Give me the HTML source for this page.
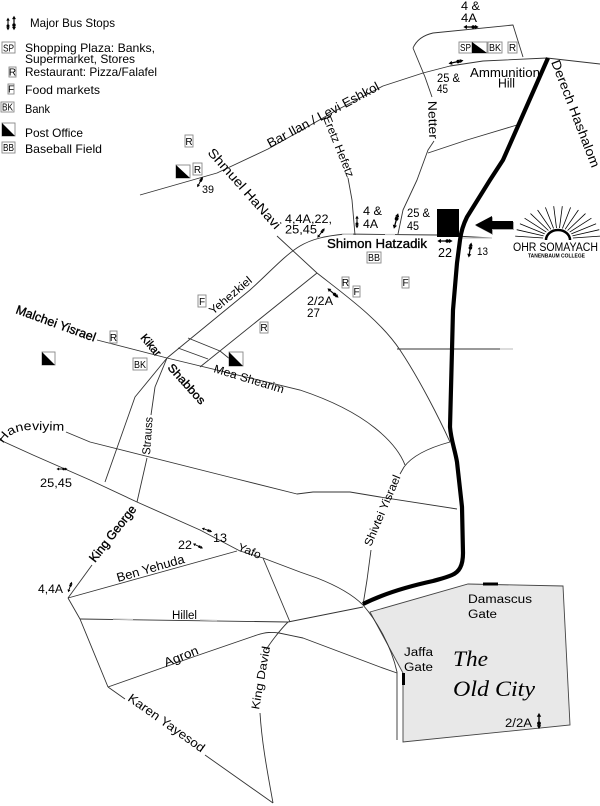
<!DOCTYPE html>
<html><head><meta charset="utf-8"><style>
html,body{margin:0;padding:0;background:#fff;}
svg{display:block;}
text{font-family:"Liberation Sans",sans-serif;fill:#000;}
.md{stroke:#000;stroke-width:0.35;}
.bx{fill:#fff;stroke:#888;stroke-width:0.9;}
</style></head><body>
<svg width="600" height="806" viewBox="0 0 600 806" xmlns="http://www.w3.org/2000/svg">
<defs>
<g id="bus"><path d="M-6,0H6" stroke="#000" stroke-width="1.4"/><path d="M-8.5,0L-4.5,-2.3V2.3Z M8.5,0L4.5,-2.3V2.3Z" fill="#000"/><circle cx="2.5" cy="0" r="2" fill="#000"/></g>
<path id="hp" d="M3,444 C9,434 18,430 32,430 L72,431" fill="none"/>
</defs>
<rect width="600" height="806" fill="#fff"/>

<!-- Old City -->
<polygon points="370,612 468,584 563,586 570,725 403,742 403,673" fill="#e8e8e8" stroke="#444" stroke-width="0.9"/>

<!-- thin roads -->
<g fill="none" stroke="#333" stroke-width="0.9" stroke-linejoin="round">
<polyline points="140,195 217,173 268,149 300,131 337,110 383,86 423,73 450,66 483,61 547,58 600,64"/>
<path d="M413,48 C417,39 424,35 433,33 L513,25 L523,57"/>
<path d="M413,48 L425,77 L432,97"/>
<path d="M434,141 L428,150 L417,180 L403,210 L398,234"/>
<path d="M428,153 L467,140 L517,125"/>
<path d="M348,178 L352,200 L355,235"/>
<path d="M277,236 L317,273 C345,295 380,320 400,350 C420,380 440,420 450,442"/>
<path d="M105,482 L135,397 L167,358 L250,290 C270,272 285,255 300,246 C312,239 325,236 345,234 L437,235 L492,238"/>
<path d="M317,273 L200,367"/>
<path d="M188,338 L220,351 L236,364"/>
<path d="M178,348 L208,359"/>
<path d="M97,340 L167,358 L300,390 C330,400 355,412 375,428 C390,440 400,452 405,465"/>
<path d="M450,442 C428,448 412,456 404,467 L400,474"/>
<path d="M371,550 L367,580 L363,605"/>
<path d="M397,349 L513,349"/>
<polyline points="66,432 90,442 233,478 297,494 313,492 350,492 380,497 457,509"/>
<path d="M0,440 L33,455 L90,480 L137,502 L200,530 L240,551 L263,558 L300,572 L317,578 C335,585 352,594 363,605"/>
<path d="M137,502 L147,458 M151,415 L155,387 L167,358"/>
<path d="M68,598 L92,565"/>
<path d="M68,598 L237,551"/>
<path d="M263,558 L290,622"/>
<path d="M80,619 L288,622 L363,607"/>
<path d="M68,598 L80,619 L108,687"/>
<path d="M108,687 L193,657 L257,635 C266,632 272,632 279,633 L303,638 L380,667 L397,673"/>
<path d="M108,687 L125,699 M205,755 L273,803"/>
<path d="M288,622 C280,630 270,643 266,650 M260,713 C262,745 268,775 273,803"/>
<path d="M363,605 C376,620 391,645 397,672 L397,740"/>
</g>
<!-- light gray segments -->
<g fill="none" stroke="#c8c8c8" stroke-width="1.3">
<path d="M342,234 L353,234 M385,234.5 L395,234.5 M462,238 L492,238 M113,619 L133,619.5 M200,620 L217,620.5 M500,349 L513,349"/>
</g>

<!-- Derech Hashalom thick road -->
<path d="M548,58 L503,160 L490,180 L467,217 C463,225 461,232 460,240 L457,263 L453,310 L452,350 L450,427 C451,440 455,450 457,462 L462,507 L463,553 C463,566 459,572 452,575 C445,578 440,579 433,581 C410,586 385,593 363,604" fill="none" stroke="#000" stroke-width="4.2" stroke-linejoin="round"/>

<!-- gates -->
<rect x="483" y="582.5" width="15" height="3" fill="#000"/>
<rect x="402" y="673" width="3" height="12" fill="#000"/>

<!-- black square & arrow -->
<rect x="437" y="209" width="22" height="28" fill="#000"/>
<path d="M476,226 L493,217 L493,222 L514,222 L514,230 L493,230 L493,235 Z" fill="#aaa"/>
<path d="M475,225 L492,216 L492,221 L513,221 L513,229 L492,229 L492,234 Z" fill="#000"/>

<!-- Ohr Somayach logo -->
<g stroke="#000" stroke-width="0.8">
<line x1="572.9" y1="238" x2="600" y2="236.1"/>
<line x1="572.4" y1="235.9" x2="599.3" y2="229.7"/>
<line x1="571.3" y1="233.9" x2="596.1" y2="223.7"/>
<line x1="569.7" y1="232.1" x2="591.4" y2="218.2"/>
<line x1="567.6" y1="230.5" x2="585.5" y2="213.6"/>
<line x1="565.1" y1="229.3" x2="578.4" y2="210"/>
<line x1="562.4" y1="228.5" x2="570.6" y2="207.4"/>
<line x1="559.5" y1="228.1" x2="562.3" y2="206.2"/>
<line x1="556.5" y1="228.1" x2="553.7" y2="206.2"/>
<line x1="553.6" y1="228.5" x2="545.4" y2="207.4"/>
<line x1="550.9" y1="229.3" x2="537.6" y2="210"/>
<line x1="548.4" y1="230.5" x2="530.5" y2="213.6"/>
<line x1="546.3" y1="232.1" x2="524.6" y2="218.2"/>
<line x1="544.7" y1="233.9" x2="519.9" y2="223.7"/>
<line x1="543.6" y1="235.9" x2="516.7" y2="229.7"/>
<line x1="543.1" y1="238" x2="515.2" y2="236.1"/>
</g>
<path d="M546,240 A12,10 0 0 1 570,240" fill="none" stroke="#000" stroke-width="2.5"/>
<text x="513" y="251" font-size="11.5" textLength="85" lengthAdjust="spacingAndGlyphs">OHR SOMAYACH</text>
<text x="528" y="257.5" font-size="5.5" font-weight="bold" textLength="57" lengthAdjust="spacingAndGlyphs">TANENBAUM COLLEGE</text>

<!-- boxes -->
<g font-size="10" text-anchor="middle">
<rect class="bx" x="2" y="42" width="13" height="11"/><text x="8.5" y="51.5" textLength="11" lengthAdjust="spacingAndGlyphs">SP</text>
<rect class="bx" x="9" y="67" width="7" height="10"/><text x="12.5" y="75.5">R</text>
<rect class="bx" x="8" y="84" width="6" height="10"/><text x="11" y="92.5">F</text>
<rect class="bx" x="1" y="102" width="13" height="10"/><text x="7.5" y="110.5" textLength="11" lengthAdjust="spacingAndGlyphs">BK</text>
<rect class="bx" x="2" y="142" width="13" height="11"/><text x="8.5" y="151" textLength="11" lengthAdjust="spacingAndGlyphs">BB</text>
<rect class="bx" x="185" y="135" width="8" height="12"/><text x="189" y="145">R</text>
<rect class="bx" x="193" y="163" width="9" height="12"/><text x="197.5" y="173">R</text>
<rect class="bx" x="459" y="42" width="13" height="11"/><text x="465.5" y="51" textLength="11" lengthAdjust="spacingAndGlyphs">SP</text>
<rect class="bx" x="488" y="42" width="14" height="11"/><text x="495" y="51" textLength="12" lengthAdjust="spacingAndGlyphs">BK</text>
<rect class="bx" x="508" y="42" width="9" height="11"/><text x="512.5" y="51">R</text>
<rect class="bx" x="367" y="252" width="14" height="11"/><text x="374" y="261" textLength="12" lengthAdjust="spacingAndGlyphs">BB</text>
<rect class="bx" x="342" y="277" width="7" height="11"/><text x="345.5" y="286">R</text>
<rect class="bx" x="353" y="286" width="7" height="11"/><text x="356.5" y="295">F</text>
<rect class="bx" x="402" y="277" width="7" height="11"/><text x="405.5" y="286">F</text>
<rect class="bx" x="198" y="295" width="8" height="12"/><text x="202" y="305">F</text>
<rect class="bx" x="260" y="322" width="8" height="11"/><text x="264" y="331">R</text>
<rect class="bx" x="110" y="331" width="7" height="12"/><text x="113.5" y="341">R</text>
<rect class="bx" x="133" y="358" width="14" height="12"/><text x="140" y="368" textLength="12" lengthAdjust="spacingAndGlyphs">BK</text>
</g>

<!-- post offices -->
<g>
<rect class="bx" x="2" y="123" width="13" height="13"/><path d="M2,123 L2,136 L15,136 Z" fill="#000"/>
<rect class="bx" x="176" y="165" width="14" height="13"/><path d="M176,165 L176,178 L190,178 Z" fill="#000"/>
<rect class="bx" x="472" y="42" width="15" height="11"/><path d="M472,42 L472,53 L487,53 Z" fill="#000"/>
<rect class="bx" x="42" y="352" width="13" height="13"/><path d="M42,352 L42,365 L55,365 Z" fill="#000"/>
<rect class="bx" x="229" y="352" width="14" height="14"/><path d="M229,352 L229,366 L243,366 Z" fill="#000"/>
</g>

<!-- bus stops -->
<use href="#bus" transform="translate(8,24) rotate(90) scale(.75)"/>
<use href="#bus" transform="translate(14,23) rotate(90) scale(.85)"/>
<use href="#bus" transform="translate(471,27) scale(.9)"/>
<use href="#bus" transform="translate(456,62) rotate(-12) scale(.9)"/>
<use href="#bus" transform="translate(200,182) rotate(-62) scale(.7)"/>
<use href="#bus" transform="translate(321,233) rotate(-52) scale(.7)"/>
<use href="#bus" transform="translate(357,222) rotate(90) scale(.75)"/>
<use href="#bus" transform="translate(396,221) rotate(-75) scale(.95)"/>
<use href="#bus" transform="translate(445,241) scale(.9)"/>
<use href="#bus" transform="translate(470,250) rotate(-80) scale(.9)"/>
<use href="#bus" transform="translate(333,293) rotate(40) scale(.85)"/>
<use href="#bus" transform="translate(62,469) scale(.65)"/>
<use href="#bus" transform="translate(207,530) rotate(20) scale(.65)"/>
<use href="#bus" transform="translate(198,546) rotate(25) scale(.65)"/>
<use href="#bus" transform="translate(70,587) rotate(-70) scale(.65)"/>
<use href="#bus" transform="translate(539,721) rotate(90) scale(.95)"/>

<!-- legend text -->
<g font-size="12">
<text x="30" y="27" textLength="85" lengthAdjust="spacingAndGlyphs">Major Bus Stops</text>
<text x="25" y="52" textLength="130" lengthAdjust="spacingAndGlyphs">Shopping Plaza: Banks,</text>
<text x="25" y="63" textLength="110" lengthAdjust="spacingAndGlyphs">Supermarket, Stores</text>
<text x="25" y="76" textLength="132" lengthAdjust="spacingAndGlyphs">Restaurant: Pizza/Falafel</text>
<text x="25" y="94" textLength="75" lengthAdjust="spacingAndGlyphs">Food markets</text>
<text x="25" y="113" textLength="25" lengthAdjust="spacingAndGlyphs">Bank</text>
<text x="25" y="137" textLength="58" lengthAdjust="spacingAndGlyphs">Post Office</text>
<text x="25" y="153" textLength="77" lengthAdjust="spacingAndGlyphs">Baseball Field</text>
</g>

<!-- street labels -->
<text transform="translate(270,148) rotate(-28)" font-size="13" textLength="125" lengthAdjust="spacingAndGlyphs">Bar Ilan / Levi Eshkol</text>
<text transform="translate(207,153) rotate(48.5)" font-size="13" textLength="103" lengthAdjust="spacingAndGlyphs">Shmuel HaNavi</text>
<text transform="translate(323,118) rotate(68)" font-size="11.5" textLength="65" lengthAdjust="spacingAndGlyphs">Eretz Hefetz</text>
<text transform="translate(428,101) rotate(88)" font-size="12.5" textLength="38" lengthAdjust="spacingAndGlyphs">Netter</text>
<text x="470" y="77" font-size="13" textLength="70" lengthAdjust="spacingAndGlyphs">Ammunition</text>
<text x="498" y="87.5" font-size="13" textLength="17" lengthAdjust="spacingAndGlyphs">Hill</text>
<text transform="translate(551,62) rotate(69)" font-size="13" textLength="114" lengthAdjust="spacingAndGlyphs">Derech Hashalom</text>
<text x="461" y="10" font-size="12" textLength="19" lengthAdjust="spacingAndGlyphs">4 &amp;</text>
<text x="461" y="22" font-size="12" textLength="16" lengthAdjust="spacingAndGlyphs">4A</text>
<text x="437" y="82" font-size="12" textLength="23" lengthAdjust="spacingAndGlyphs">25 &amp;</text>
<text x="437" y="93" font-size="12" textLength="11" lengthAdjust="spacingAndGlyphs">45</text>
<text x="327" y="248" font-size="13" class="md" textLength="100" lengthAdjust="spacingAndGlyphs">Shimon Hatzadik</text>
<text x="285" y="223" font-size="12" textLength="47" lengthAdjust="spacingAndGlyphs">4,4A,22,</text>
<text x="285" y="233.5" font-size="12" textLength="32" lengthAdjust="spacingAndGlyphs">25,45</text>
<text x="363" y="215" font-size="12" textLength="19" lengthAdjust="spacingAndGlyphs">4 &amp;</text>
<text x="363" y="228" font-size="12" textLength="15" lengthAdjust="spacingAndGlyphs">4A</text>
<text x="407" y="217" font-size="12" textLength="23" lengthAdjust="spacingAndGlyphs">25 &amp;</text>
<text x="407" y="230" font-size="12" textLength="12" lengthAdjust="spacingAndGlyphs">45</text>
<text x="438" y="257" font-size="13" textLength="14" lengthAdjust="spacingAndGlyphs">22</text>
<text x="477" y="255" font-size="11" textLength="11" lengthAdjust="spacingAndGlyphs">13</text>
<text x="307" y="305" font-size="12" textLength="26" lengthAdjust="spacingAndGlyphs">2/2A</text>
<text x="307" y="317" font-size="12" textLength="13" lengthAdjust="spacingAndGlyphs">27</text>
<text x="202" y="193" font-size="11" textLength="12" lengthAdjust="spacingAndGlyphs">39</text>
<text transform="translate(213,315) rotate(-40)" font-size="11.5" textLength="52" lengthAdjust="spacingAndGlyphs">Yehezkiel</text>
<text transform="translate(15,313) rotate(20)" font-size="12.5" class="md" textLength="84" lengthAdjust="spacingAndGlyphs">Malchei Yisrael</text>
<text transform="translate(140,338) rotate(50)" font-size="11.5" class="md" textLength="25" lengthAdjust="spacingAndGlyphs">Kikar</text>
<text transform="translate(167,368) rotate(48)" font-size="11.5" class="md" textLength="50" lengthAdjust="spacingAndGlyphs">Shabbos</text>
<text transform="translate(213,372) rotate(17)" font-size="11.5" textLength="73" lengthAdjust="spacingAndGlyphs">Mea Shearim</text>
<text transform="translate(150,455) rotate(-86)" font-size="11.5" textLength="38" lengthAdjust="spacingAndGlyphs">Strauss</text>
<text font-size="12.5"><textPath href="#hp" textLength="66" lengthAdjust="spacingAndGlyphs">Haneviyim</textPath></text>
<text x="40" y="487" font-size="11.5" textLength="32" lengthAdjust="spacingAndGlyphs">25,45</text>
<text transform="translate(95,563) rotate(-52)" font-size="12.5" class="md" textLength="68" lengthAdjust="spacingAndGlyphs">King George</text>
<text x="38" y="593" font-size="11.5" textLength="25" lengthAdjust="spacingAndGlyphs">4,4A</text>
<text transform="translate(118,582) rotate(-16)" font-size="12.5" textLength="70" lengthAdjust="spacingAndGlyphs">Ben Yehuda</text>
<text transform="translate(237,550) rotate(22)" font-size="11.5" textLength="24" lengthAdjust="spacingAndGlyphs">Yafo</text>
<text x="178" y="549" font-size="11.5" textLength="14" lengthAdjust="spacingAndGlyphs">22</text>
<text x="213" y="542" font-size="11.5" textLength="14" lengthAdjust="spacingAndGlyphs">13</text>
<text x="172" y="619" font-size="11.5" textLength="25" lengthAdjust="spacingAndGlyphs">Hillel</text>
<text transform="translate(166,667) rotate(-22)" font-size="12.5" textLength="36" lengthAdjust="spacingAndGlyphs">Agron</text>
<text transform="translate(259,710) rotate(-80)" font-size="11.5" textLength="64" lengthAdjust="spacingAndGlyphs">King David</text>
<text transform="translate(127,700) rotate(35.4)" font-size="12.5" textLength="91" lengthAdjust="spacingAndGlyphs">Karen Yayesod</text>
<text transform="translate(371,547) rotate(-67)" font-size="11.5" textLength="76" lengthAdjust="spacingAndGlyphs">Shivtei Yisrael</text>

<!-- Old city labels -->
<text x="468" y="603" font-size="11.5" textLength="64" lengthAdjust="spacingAndGlyphs">Damascus</text>
<text x="468" y="618" font-size="11.5" textLength="29" lengthAdjust="spacingAndGlyphs">Gate</text>
<text x="404" y="656" font-size="11.5" textLength="29" lengthAdjust="spacingAndGlyphs">Jaffa</text>
<text x="404" y="671" font-size="11.5" textLength="29" lengthAdjust="spacingAndGlyphs">Gate</text>
<text x="453" y="666" font-size="22" font-style="italic" style="font-family:'Liberation Serif',serif" textLength="35" lengthAdjust="spacingAndGlyphs">The</text>
<text x="453" y="696" font-size="22" font-style="italic" style="font-family:'Liberation Serif',serif" textLength="82" lengthAdjust="spacingAndGlyphs">Old City</text>
<text x="505" y="727" font-size="11.5" textLength="27" lengthAdjust="spacingAndGlyphs">2/2A</text>
</svg>
</body></html>
